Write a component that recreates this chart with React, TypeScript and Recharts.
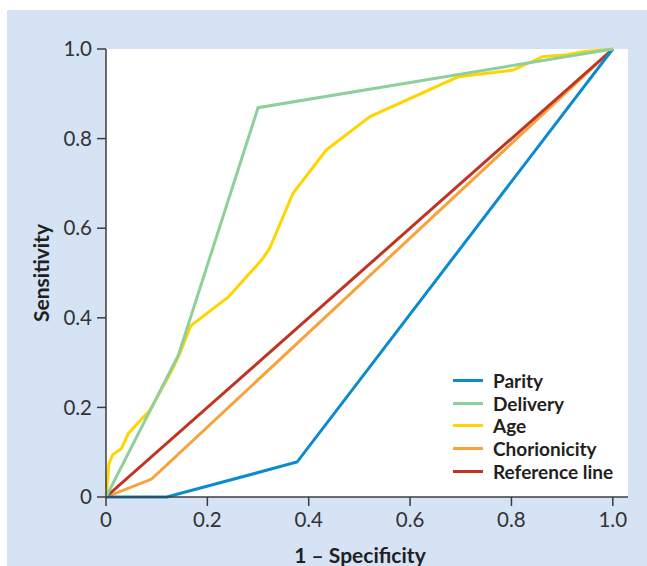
import React from 'react';
import { LineChart, Line, XAxis, YAxis, CartesianGrid, Label } from 'recharts';

// ROC curves, values
const parityX = [0, 0.12, 0.377, 1];
const parityY = [0, 0, 0.078, 1];

const deliveryX = [0, 0.143, 0.3, 1];
const deliveryY = [0, 0.317, 0.869, 1];

const ageX = [0, 0.006, 0.013, 0.031, 0.044, 0.087, 0.13, 0.146, 0.167, 0.241, 0.307, 0.323, 0.369, 0.435, 0.521, 0.695, 0.803, 0.862, 0.909, 0.941, 1];
const ageY = [0, 0.075, 0.094, 0.109, 0.142, 0.194, 0.283, 0.321, 0.382, 0.446, 0.529, 0.555, 0.678, 0.775, 0.849, 0.938, 0.953, 0.983, 0.987, 0.994, 1];

const chorionicityX = [0, 0.09, 1];
const chorionicityY = [0, 0.04, 1];

const referenceX = [0, 1];
const referenceY = [0, 1];

const axisTicks = [0, 0.2, 0.4, 0.6, 0.8, 1.0];

const zip = (xs: number[], ys: number[]) => xs.map((x, i) => ({ x, y: ys[i] }));

const series = [
    { name: 'Parity', color: '#0a8bd0', data: zip(parityX, parityY) },
    { name: 'Delivery', color: '#8fcf9b', data: zip(deliveryX, deliveryY) },
    { name: 'Age', color: '#ffd500', data: zip(ageX, ageY) },
    { name: 'Chorionicity', color: '#f8a23c', data: zip(chorionicityX, chorionicityY) },
    { name: 'Reference line', color: '#bf3422', data: zip(referenceX, referenceY) },
];

// draw order: lowest first
const drawOrder = ['Chorionicity', 'Reference line', 'Parity', 'Age', 'Delivery'];

const FONT = 'Lato, "Open Sans", sans-serif';
const AXIS = '#3c3c3c';

const fmt = (v: number) => (v === 0 ? '0' : v.toFixed(1));

// legend sits inside the plot, kept out of recharts' layout so it reserves no space
const LegendBox = () => (
    <div
        style={{
            position: 'absolute',
            left: 446,
            top: 359,
            fontFamily: FONT,
            fontWeight: 700,
            fontSize: 19,
            color: '#231f20',
            lineHeight: 1,
        }}
    >
        {series.map((s) => (
            <div key={s.name} style={{ display: 'flex', alignItems: 'center', height: 22.75 }}>
                <div style={{ width: 30, height: 3, background: s.color, marginRight: 10 }} />
                <span>{s.name}</span>
            </div>
        ))}
    </div>
);

const App: React.FC = () => (
    <div style={{ position: 'absolute', left: 0, top: 0, width: 647, height: 566, background: '#fff' }}>
        <div style={{ position: 'absolute', left: 7, top: 10, width: 640, height: 556, background: '#d5e3f5' }}>
            <LineChart width={640} height={556} margin={{ top: 39, right: 19, left: 0, bottom: 0 }}>
                <CartesianGrid fill="#fff" stroke="none" />
                <XAxis
                    type="number"
                    dataKey="x"
                    domain={[0, 1.03]}
                    ticks={axisTicks}
                    tickFormatter={fmt}
                    allowDataOverflow
                    height={69}
                    tickSize={9}
                    tickMargin={6}
                    stroke={AXIS}
                    strokeWidth={1.5}
                    tick={{ fill: '#333', fontSize: 20.5, fontFamily: FONT }}
                >
                    <Label
                        value="1 – Specificity"
                        position="insideBottom"
                        offset={3}
                        dx={-7}
                        style={{ fill: '#231f20', fontSize: 21, fontWeight: 700, fontFamily: FONT }}
                    />
                </XAxis>
                <YAxis
                    type="number"
                    dataKey="y"
                    domain={[0, 1]}
                    ticks={axisTicks}
                    tickFormatter={fmt}
                    width={99}
                    tickSize={9}
                    tickMargin={5}
                    stroke={AXIS}
                    strokeWidth={1.5}
                    tick={{ fill: '#333', fontSize: 20.5, fontFamily: FONT }}
                >
                    <Label
                        value="Sensitivity"
                        angle={-90}
                        position="center"
                        dx={-15}
                        style={{ fill: '#231f20', fontSize: 21, fontWeight: 700, fontFamily: FONT, textAnchor: 'middle' }}
                    />
                </YAxis>
                {drawOrder.map((n) => {
                    const s = series.find((x) => x.name === n)!;
                    return (
                        <Line
                            key={s.name}
                            data={s.data}
                            dataKey="y"
                            name={s.name}
                            type="linear"
                            stroke={s.color}
                            strokeWidth={3}
                            dot={false}
                            activeDot={false}
                            isAnimationActive={false}
                        />
                    );
                })}
            </LineChart>
            <LegendBox />
        </div>
    </div>
);

export default App;
